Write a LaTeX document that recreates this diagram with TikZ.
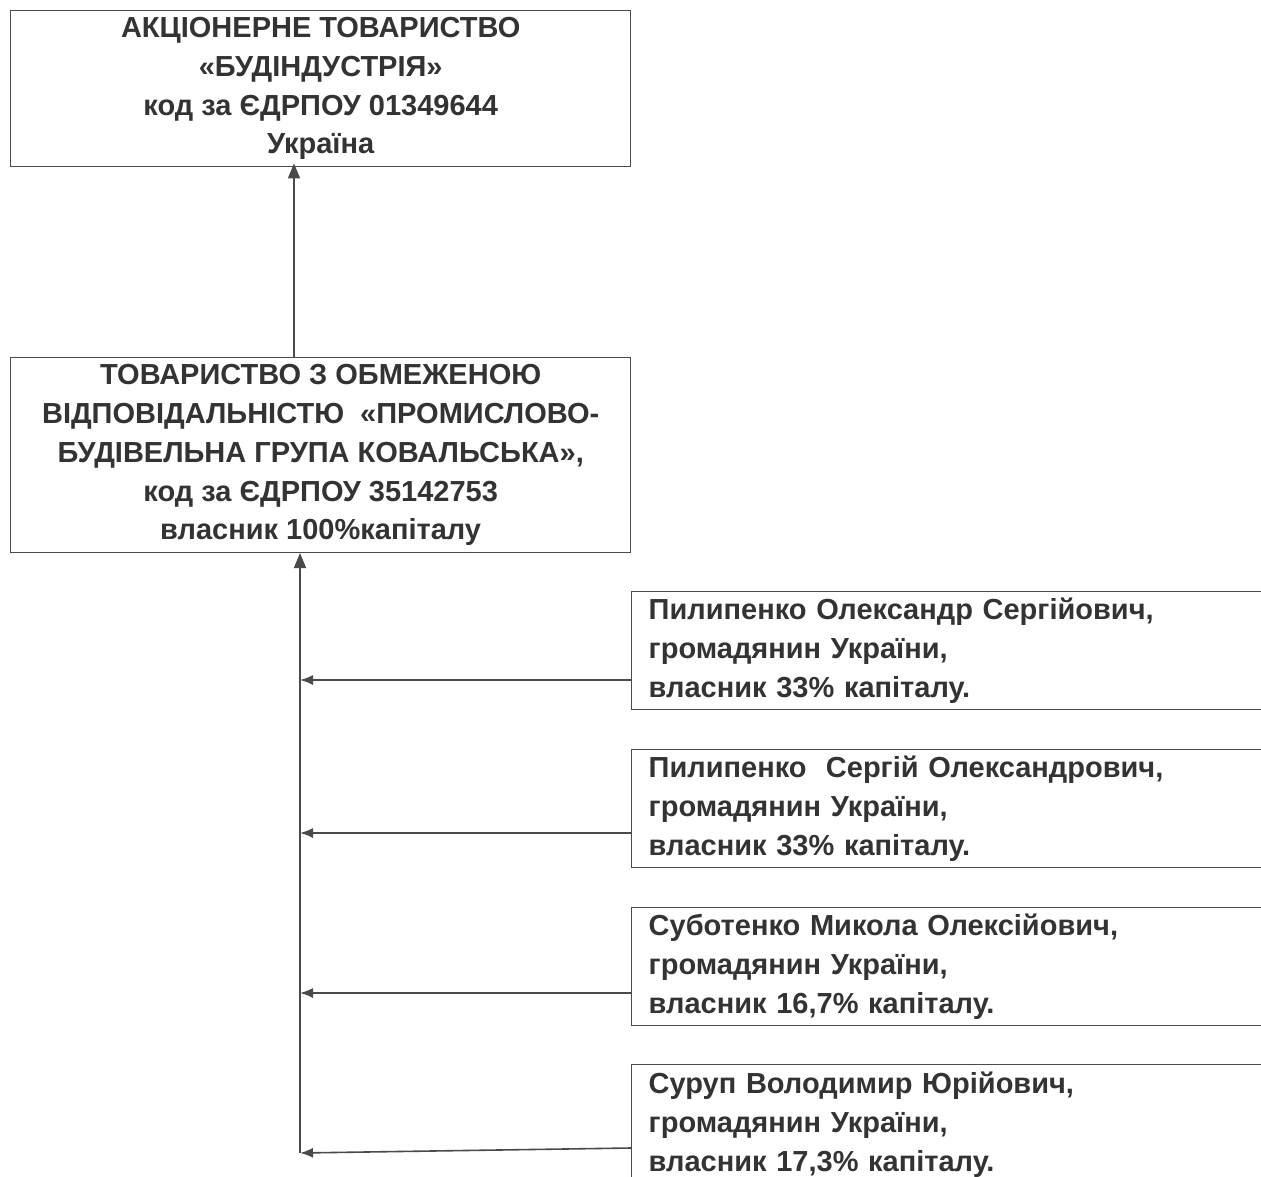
\documentclass[tikz,border=0pt]{standalone}
\usepackage{fontspec}
\setmainfont{Liberation Sans}
\usetikzlibrary{arrows.meta,positioning,calc}
\definecolor{inkc}{HTML}{333333}
\definecolor{linec}{HTML}{4A4A4A}
\tikzset{
  orgbox/.style={draw=linec, line width=1.4pt, rectangle, anchor=north west,
    text=inkc, align=center, inner sep=0pt,
    font=\bfseries\fontsize{29}{38.7}\selectfont},
  personbox/.style={draw=linec, line width=1.4pt, rectangle, anchor=north west,
    text=inkc, align=left, inner xsep=17pt, inner ysep=0pt, text width=600pt,
    minimum height=118pt,
    font=\bfseries\fontsize{29}{39}\selectfont},
  link/.style={draw=linec, line width=1.6pt, -{Triangle[length=15pt,width=12pt]}},
  feed/.style={draw=linec, line width=1.6pt, -{Latex[length=13pt,width=10pt]}}
}
\begin{document}
\begin{tikzpicture}[x=1pt,y=-1pt]
\fill[white] (0,0) rectangle (1261,1177);
\clip (0,0) rectangle (1261,1177);

\node[orgbox, minimum width=620pt, minimum height=156pt] (top) at (10,10)
  {АКЦІОНЕРНЕ ТОВАРИСТВО\\«БУДІНДУСТРІЯ»\\код за ЄДРПОУ 01349644\\Україна};

\node[orgbox, minimum width=620pt, minimum height=195pt] (mid) at (10,357)
  {ТОВАРИСТВО З ОБМЕЖЕНОЮ\\ВІДПОВІДАЛЬНІСТЮ\ \ «ПРОМИСЛОВО-\\БУДІВЕЛЬНА ГРУПА КОВАЛЬСЬКА»,\\код за ЄДРПОУ 35142753\\власник 100\%капіталу};

\node[personbox] (pa) at (631,591)
  {Пилипенко Олександр Сергійович,\\громадянин України,\\власник 33\% капіталу.};
\node[personbox] (pb) at (631,749)
  {Пилипенко\ \ Сергій Олександрович,\\громадянин України,\\власник 33\% капіталу.};
\node[personbox] (pc) at (631,907)
  {Суботенко Микола Олексійович,\\громадянин України,\\власник 16,7\% капіталу.};
\node[personbox, minimum height=120pt] (pd) at (631,1064)
  {Суруп Володимир Юрійович,\\громадянин України,\\власник 17,3\% капіталу.};

% connector top
\coordinate (midtop) at (294,357);
\draw[link, shorten >=-4pt] (midtop) -- (top.south -| midtop);

% bus
\coordinate (busA) at (300,680);
\coordinate (busB) at (300,833);
\coordinate (busC) at (300,993);
\coordinate (busD) at (300,1153);
\coordinate (busTop) at (300,553);
\draw[link] (busD) -- (busTop);

\coordinate (srcA) at (631,680);
\coordinate (srcB) at (631,833);
\coordinate (srcC) at (631,993);
\coordinate (srcD) at (631,1148);
\draw[feed] (srcA) -- (busA);
\draw[feed] (srcB) -- (busB);
\draw[feed] (srcC) -- (busC);
\draw[feed] (srcD) -- (busD);
\end{tikzpicture}
\end{document}
